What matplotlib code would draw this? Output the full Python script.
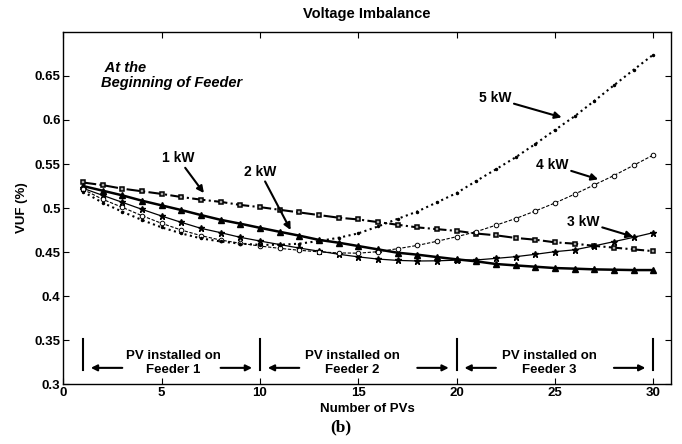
import matplotlib
matplotlib.use('Agg')
import matplotlib.pyplot as plt
import numpy as np

plt.rcParams['font.family'] = ['Liberation Sans', 'DejaVu Sans']
plt.rcParams['font.weight'] = 'bold'

# number of PVs
n_pv = list(range(1, 31))

# VUF (%) for each PV size
vuf_1kw = [0.529, 0.526, 0.522, 0.519, 0.516, 0.5125, 0.5095, 0.507, 0.5035, 0.501,
           0.498, 0.495, 0.492, 0.489, 0.487, 0.484, 0.481, 0.478, 0.476, 0.474,
           0.471, 0.469, 0.466, 0.464, 0.461, 0.4595, 0.457, 0.455, 0.453, 0.451]
vuf_2kw = [0.525, 0.5197, 0.5144, 0.5083, 0.503, 0.4977, 0.492, 0.4866, 0.4822, 0.4775,
           0.473, 0.4686, 0.4638, 0.4606, 0.4568, 0.453, 0.4492, 0.447, 0.4443, 0.4417,
           0.4394, 0.4364, 0.4348, 0.4333, 0.4318, 0.4311, 0.4303, 0.4299, 0.4295, 0.4295]
vuf_3kw = [0.5224, 0.5144, 0.5065, 0.4985, 0.4909, 0.4837, 0.4769, 0.472, 0.4667, 0.4625,
           0.4585, 0.4545, 0.451, 0.4475, 0.4445, 0.442, 0.4405, 0.4398, 0.440, 0.4408,
           0.441, 0.4428, 0.4447, 0.4474, 0.4504, 0.4525, 0.457, 0.4618, 0.4667, 0.472]
vuf_4kw = [0.5212, 0.5099, 0.5008, 0.4913, 0.4826, 0.475, 0.4686, 0.4636, 0.460, 0.4568,
           0.4542, 0.452, 0.4502, 0.449, 0.4487, 0.4504, 0.4538, 0.4575, 0.4622, 0.4674,
           0.4731, 0.4805, 0.488, 0.4966, 0.5057, 0.5157, 0.5263, 0.5369, 0.5485, 0.5602]
vuf_5kw = [0.5186, 0.506, 0.4958, 0.4864, 0.478, 0.4712, 0.4655, 0.462, 0.4595, 0.4582,
           0.4582, 0.4595, 0.4625, 0.4662, 0.4712, 0.479, 0.4877, 0.496, 0.5064, 0.517,
           0.5307, 0.544, 0.5576, 0.5727, 0.5886, 0.6042, 0.6216, 0.6394, 0.657, 0.6742]

# feeder sections
feeder_bounds = [1, 10, 20, 30]
feeder_names = ['PV installed on\nFeeder 1', 'PV installed on\nFeeder 2', 'PV installed on\nFeeder 3']

fig = plt.figure(figsize=(6.82, 4.44), dpi=100)
ax = fig.add_axes([0.0928, 0.135, 0.891, 0.793])

ax.plot(n_pv, vuf_1kw, color='k', ls='-.', lw=1.5, marker='s', ms=3.5,
        mfc='#aaaaaa', mec='k', mew=1.1)
ax.plot(n_pv, vuf_2kw, color='k', ls='-', lw=1.8, marker='^', ms=5, mfc='k', mec='k')
ax.plot(n_pv, vuf_3kw, color='k', ls='-', lw=0.9, marker='*', ms=5, mfc='k', mec='k')
ax.plot(n_pv, vuf_4kw, color='k', ls='--', lw=0.8, dashes=(3, 1.5), marker='o', ms=3.3,
        mfc='white', mec='k', mew=0.7)
ax.plot(n_pv, vuf_5kw, color='k', ls=':', lw=1.5, marker='.', ms=3, mfc='k', mec='k')

arrow = dict(arrowstyle='-|>', color='k', lw=1.5, mutation_scale=10, shrinkA=0, shrinkB=0)
ax.annotate('1 kW', xy=(7.15, 0.517), xytext=(5.83, 0.5568), ha='center', va='center',
            fontsize=10, fontweight='bold', arrowprops=arrow)
ax.annotate('2 kW', xy=(11.56, 0.475), xytext=(10.0, 0.5413), ha='center', va='center',
            fontsize=10, fontweight='bold', arrowprops=arrow)
ax.annotate('3 kW', xy=(28.98, 0.4674), xytext=(26.44, 0.4845), ha='center', va='center',
            fontsize=10, fontweight='bold', arrowprops=arrow)
ax.annotate('4 kW', xy=(27.2, 0.5326), xytext=(24.86, 0.5489), ha='center', va='center',
            fontsize=10, fontweight='bold', arrowprops=arrow)
ax.annotate('5 kW', xy=(25.34, 0.603), xytext=(21.95, 0.6247), ha='center', va='center',
            fontsize=10, fontweight='bold', arrowprops=arrow)

ax.text(1.9, 0.667, ' At the\nBeginning of Feeder', ha='left', va='top',
        fontsize=10.5, fontweight='bold', fontstyle='italic', linespacing=1.05)

# feeder section markers
for xb in feeder_bounds:
    ax.plot([xb, xb], [0.316, 0.351], color='k', lw=1.5)
for i, name in enumerate(feeder_names):
    x0 = feeder_bounds[i]
    x1 = feeder_bounds[i + 1]
    xc = (x0 + x1) / 2 + (0.1 if i == 0 else -0.3)
    ax.text(xc, 0.3235, name, ha='center', va='center', fontsize=9.5, fontweight='bold',
            linespacing=1.25)
    ax.annotate('', xy=(x0 + 0.4, 0.3184), xytext=(x0 + 2.0, 0.3184),
                arrowprops=dict(arrowstyle='-|>', color='k', lw=1.5, mutation_scale=9,
                                shrinkA=0, shrinkB=0))
    ax.annotate('', xy=(x1 - 0.4, 0.3184), xytext=(x1 - 2.0, 0.3184),
                arrowprops=dict(arrowstyle='-|>', color='k', lw=1.5, mutation_scale=9,
                                shrinkA=0, shrinkB=0))

ax.set_xlim(0, 30.9)
ax.set_ylim(0.3, 0.7)
ax.set_xticks([0, 5, 10, 15, 20, 25, 30])
ax.set_yticks([0.3, 0.35, 0.4, 0.45, 0.5, 0.55, 0.6, 0.65])
ax.set_yticklabels(['0.3', '0.35', '0.4', '0.45', '0.5', '0.55', '0.6', '0.65'])
ax.tick_params(direction='in', top=True, right=True, labelsize=9.5, length=4, width=0.8, pad=2)
for lab in ax.get_xticklabels() + ax.get_yticklabels():
    lab.set_fontweight('bold')
for sp in ax.spines.values():
    sp.set_linewidth(1.0)

ax.set_xlabel('Number of PVs', fontsize=9.5, fontweight='bold', labelpad=3)
ax.set_ylabel('VUF (%)', fontsize=9.5, fontweight='bold', labelpad=5)
ax.set_title('Voltage Imbalance', fontsize=10.5, fontweight='bold', pad=10)
fig.text(0.5, 0.038, '(b)', ha='center', va='center', fontsize=12.5, fontweight='bold',
         family=['Liberation Serif', 'DejaVu Serif'])

fig.savefig('out.png', dpi=100)
